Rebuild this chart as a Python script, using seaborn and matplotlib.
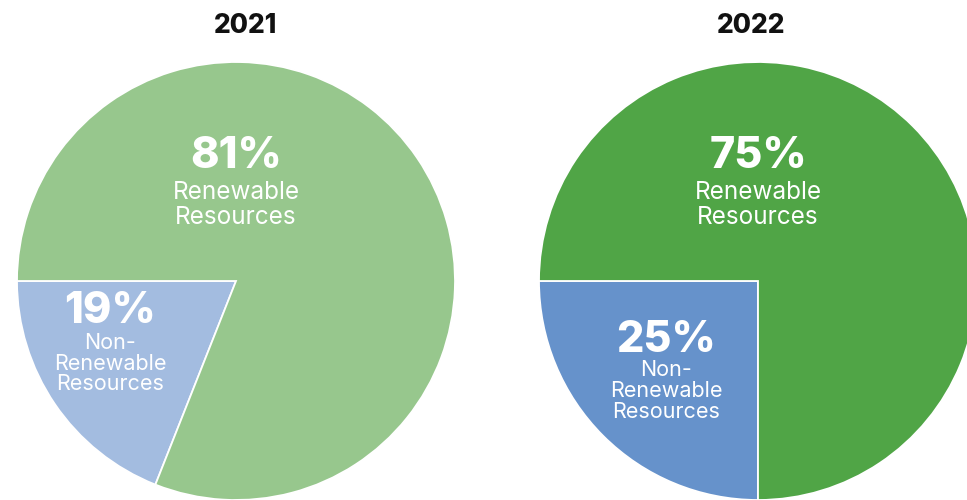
import matplotlib
matplotlib.use("Agg")
import matplotlib.pyplot as plt
import seaborn as sns

sns.set_theme(style="white")
plt.rcParams["font.family"] = ["Inter", "DejaVu Sans"]

# Resource mix by year (percent)
years = ["2021", "2022"]
categories = ["Non-Renewable Resources", "Renewable Resources"]
non_renewable = [19, 25]
renewable = [81, 75]

colors = {
    "2021": ["#a3bce0", "#97c78d"],
    "2022": ["#6692cb", "#50a546"],
}

W, H = 967, 500
fig = plt.figure(figsize=(W / 100, H / 100), dpi=100)
fig.patch.set_facecolor("white")

radius_px = 219
centers = [(236, 281), (758, 281)]
title_x = [246, 751]

# label baselines in axis units, relative to the pie centre
top_offsets = [(0.0, 0.516, 0.374, 0.260), (0.0, 0.516, 0.374, 0.260)]
low_offsets = [(-0.575, -0.192, -0.31, -0.408, -0.500),
               (-0.42, -0.324, -0.434, -0.530, -0.626)]

for i, year in enumerate(years):
    cx, cy = centers[i]
    ax = fig.add_axes([(cx - radius_px) / W, (H - cy - radius_px) / H,
                       2 * radius_px / W, 2 * radius_px / H])
    ax.pie([non_renewable[i], renewable[i]], colors=colors[year],
           startangle=180, counterclock=True, radius=1,
           wedgeprops=dict(edgecolor="white", linewidth=1.3))
    ax.set_xlim(-1, 1)
    ax.set_ylim(-1, 1)
    ax.set_aspect("equal")
    ax.axis("off")

    # renewable label
    x, yp, y1, y2 = top_offsets[i]
    ax.text(x, yp, f"{renewable[i]}%", color="white", fontsize=31,
            fontweight="heavy", ha="center", va="baseline")
    ax.text(x, y1, "Renewable", color="white", fontsize=17.5,
            ha="center", va="baseline")
    ax.text(x, y2, "Resources", color="white", fontsize=17.5,
            ha="center", va="baseline")

    # non-renewable label
    x, yp, y1, y2, y3 = low_offsets[i]
    ax.text(x, yp, f"{non_renewable[i]}%", color="white", fontsize=31,
            fontweight="heavy", ha="center", va="baseline")
    for yy, line in zip((y1, y2, y3), ("Non-", "Renewable", "Resources")):
        ax.text(x, yy, line, color="white", fontsize=15.5,
                ha="center", va="baseline")

    fig.text(title_x[i] / W, 1 - 33 / H, year, color="#111111",
             fontsize=19, fontweight="heavy", ha="center", va="baseline")

fig.savefig("out.png", dpi=100, facecolor="white")
